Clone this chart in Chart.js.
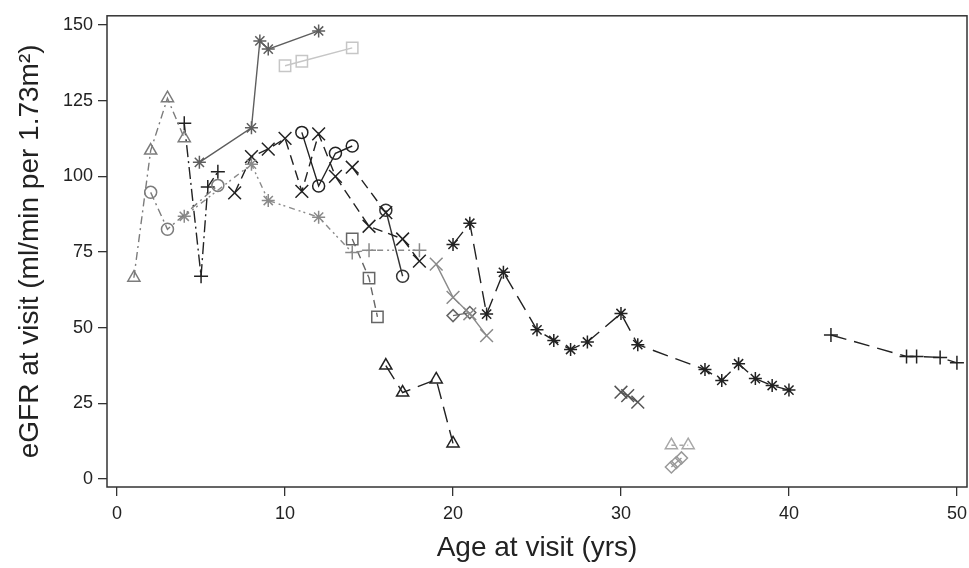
<!DOCTYPE html>
<html>
<head>
<meta charset="utf-8">
<title>eGFR at visit</title>
<script src="https://cdn.jsdelivr.net/npm/chart.js@4.4.1/dist/chart.umd.min.js"></script>
<style>
  html, body { margin: 0; padding: 0; background: #fff; }
  #wrap { width: 969px; height: 568px; }
</style>
</head>
<body>
<div id="wrap"><canvas id="chart" width="969" height="568"></canvas></div>
<script>
// ────────────────────────────────────────────────────────────
// Datos (edad en años / eGFR)
// ────────────────────────────────────────────────────────────
const X_TICKS = [0, 10, 20, 30, 40, 50];
const Y_TICKS = [0, 25, 50, 75, 100, 125, 150];

const AGE_TRI_A = [1, 2, 3, 4];
const EGFR_TRI_A = [66.5, 108.5, 125.8, 112.6];

const AGE_PLUS_A = [4, 5, 5.4, 6];
const EGFR_PLUS_A = [117.5, 67, 96.5, 101.5];

const AGE_CIRC_A = [2, 3, 6];
const EGFR_CIRC_A = [94.7, 82.5, 97];

const AGE_STAR_A = [4.9, 8, 8.5, 9, 12];
const EGFR_STAR_A = [104.6, 116, 144.7, 142, 148];

const AGE_SQ_A = [10, 11, 14];
const EGFR_SQ_A = [136.5, 138, 142.4];

const AGE_STAR_B = [4, 8, 9, 12, 14, 15, 18];
const EGFR_STAR_B = [86.8, 104, 92, 86.5, 74.8, 75.6, 75.6];

const AGE_SQ_B = [14, 15, 15.5];
const EGFR_SQ_B = [79.3, 66.4, 53.6];

const AGE_X_A = [7, 8, 9, 10, 11, 12, 13, 15, 17, 18];
const EGFR_X_A = [94.5, 106.5, 109, 112.5, 95, 114, 100, 83.5, 79.3, 72];

const AGE_X_B = [14, 16];
const EGFR_X_B = [103, 88];

const AGE_CIRC_B = [11, 12, 13, 14];
const EGFR_CIRC_B = [114.5, 96.8, 107.6, 110];

const AGE_CIRC_C = [16, 17];
const EGFR_CIRC_C = [88.8, 67];

const AGE_X_C = [19, 20, 21, 22];
const EGFR_X_C = [71, 60, 54.6, 47.4];

const AGE_DIAM_A = [20, 21];
const EGFR_DIAM_A = [54, 55];

const AGE_STAR_C = [20, 21, 22, 23, 25, 26, 27, 28, 30, 31, 35, 36, 37, 38, 39, 40];
const EGFR_STAR_C = [77.5, 84.5, 54.5, 68.3, 49.3, 45.8, 42.8, 45.3, 54.7, 44.4, 36.2, 32.6, 38.1, 33.2, 30.9, 29.4];

const AGE_TRI_B = [16, 17, 19, 20];
const EGFR_TRI_B = [37.5, 28.6, 32.9, 11.8];

const AGE_STAR_D = [30, 30.4, 31];
const EGFR_STAR_D = [28.7, 27.6, 25.4];

const AGE_TRI_C = [33, 34];
const EGFR_TRI_C = [11.2, 11.2];

const AGE_DIAM_B = [33, 33.3, 33.6];
const EGFR_DIAM_B = [4, 5.5, 7];

const AGE_PLUS_C = [42.5, 47, 47.6, 49, 50];
const EGFR_PLUS_C = [47.6, 40.5, 40.5, 40.2, 38.4];

(function () {
  "use strict";

  const FONT = '"Liberation Sans", Arial, sans-serif';
  const INK = "#222";

  function pts(xs, ys) {
    return xs.map(function (x, i) { return { x: x, y: ys[i] }; });
  }

  // tamaño de marcador por forma
  const RADIUS = { triangle: 7, circle: 6, rect: 8, rectRot: 6, cross: 7, crossRot: 9, star: 6.5 };

  function series(xs, ys, style, color, dash) {
    const radius = Array.isArray(style)
      ? style.map(function (s) { return RADIUS[s]; })
      : RADIUS[style];
    return {
      data: pts(xs, ys),
      showLine: true,
      borderColor: color,
      borderWidth: 1.4,
      borderDash: dash || [],
      pointStyle: style,
      pointRadius: radius,
      pointBorderColor: color,
      pointBackgroundColor: "rgba(0,0,0,0)",
      pointBorderWidth: 1.5,
      fill: false,
      tension: 0,
    };
  }

  const DASH_DOT = [8, 4, 2, 4];
  const DASH_DOT_DOT = [6, 4, 2, 3, 2, 4];
  const LONG_DASH = [16, 8];
  const MED_DASH = [10, 6];

  const datasets = [
    series(AGE_TRI_A, EGFR_TRI_A, "triangle", "#7c7c7c", DASH_DOT),
    series(AGE_CIRC_A, EGFR_CIRC_A, "circle", "#7c7c7c", DASH_DOT),
    series(AGE_STAR_B, EGFR_STAR_B,
      ["star", "star", "star", "star", "cross", "cross", "cross"], "#8a8a8a", DASH_DOT_DOT),
    series(AGE_PLUS_A, EGFR_PLUS_A, "cross", INK, [12, 4, 2, 4]),
    series(AGE_STAR_A, EGFR_STAR_A, "star", "#5e5e5e"),
    series(AGE_SQ_A, EGFR_SQ_A, "rect", "#c6c6c6"),
    series(AGE_SQ_B, EGFR_SQ_B, "rect", "#666", [8, 5]),
    series(AGE_X_A, EGFR_X_A, "crossRot", INK, MED_DASH),
    series(AGE_X_B, EGFR_X_B, "crossRot", INK, MED_DASH),
    series(AGE_CIRC_B, EGFR_CIRC_B, "circle", INK),
    series(AGE_CIRC_C, EGFR_CIRC_C, "circle", "#333"),
    series(AGE_X_C, EGFR_X_C, "crossRot", "#8a8a8a"),
    series(AGE_DIAM_A, EGFR_DIAM_A, "rectRot", "#666"),
    series(AGE_STAR_C, EGFR_STAR_C, "star", INK, LONG_DASH),
    series(AGE_TRI_B, EGFR_TRI_B, "triangle", INK, LONG_DASH),
    series(AGE_STAR_D, EGFR_STAR_D, "crossRot", "#555"),
    series(AGE_TRI_C, EGFR_TRI_C, "triangle", "#a8a8a8", [4, 4]),
    series(AGE_DIAM_B, EGFR_DIAM_B, "rectRot", "#999"),
    series(AGE_PLUS_C, EGFR_PLUS_C, "cross", INK, LONG_DASH),
  ];

  // marco completo + etiquetas del eje x (sin que el "50" robe margen)
  const frame = {
    id: "frame",
    afterDraw: function (chart) {
      const a = chart.chartArea;
      const ctx = chart.ctx;
      const sx = chart.scales.x;
      ctx.save();
      ctx.strokeStyle = "#333";
      ctx.lineWidth = 1.5;
      ctx.strokeRect(a.left, a.top, a.right - a.left, a.bottom - a.top);

      ctx.fillStyle = INK;
      ctx.font = "18px " + FONT;
      ctx.textAlign = "center";
      ctx.textBaseline = "top";
      X_TICKS.forEach(function (v) {
        ctx.fillText(String(v), sx.getPixelForValue(v), a.bottom + 18);
      });
      ctx.restore();
    },
  };

  function fixedTicks(list) {
    return function (scale) {
      scale.ticks = list.map(function (v) { return { value: v }; });
    };
  }

  Chart.defaults.font.family = FONT;
  Chart.defaults.color = INK;

  new Chart(document.getElementById("chart"), {
    type: "scatter",
    data: { datasets: datasets },
    plugins: [frame],
    options: {
      responsive: false,
      animation: false,
      devicePixelRatio: 1,
      layout: { autoPadding: false, padding: { top: 14, right: 2, left: 0, bottom: 0 } },
      plugins: { legend: { display: false }, tooltip: { enabled: false } },
      scales: {
        x: {
          type: "linear",
          min: -0.6,
          max: 50.6,
          afterBuildTicks: fixedTicks(X_TICKS),
          afterFit: function (s) { s.height = 81; },
          border: { display: false },
          grid: { drawOnChartArea: false, drawTicks: true, tickLength: 9, color: "#333", lineWidth: 1.3 },
          ticks: { display: false },
          title: {
            display: true,
            text: "Age at visit (yrs)",
            font: { size: 28 },
            padding: { top: 0, bottom: 3 },
          },
        },
        y: {
          type: "linear",
          min: -2.6,
          max: 153,
          afterBuildTicks: fixedTicks(Y_TICKS),
          afterFit: function (s) { s.width = 107; },
          border: { display: false },
          grid: { drawOnChartArea: false, drawTicks: true, tickLength: 9, color: "#333", lineWidth: 1.3 },
          ticks: { font: { size: 18 }, padding: 5 },
          title: {
            display: true,
            text: "eGFR at visit (ml/min per 1.73m²)",
            font: { size: 28 },
            padding: { top: 13, bottom: 0 },
          },
        },
      },
    },
  });
})();
</script>
</body>
</html>
